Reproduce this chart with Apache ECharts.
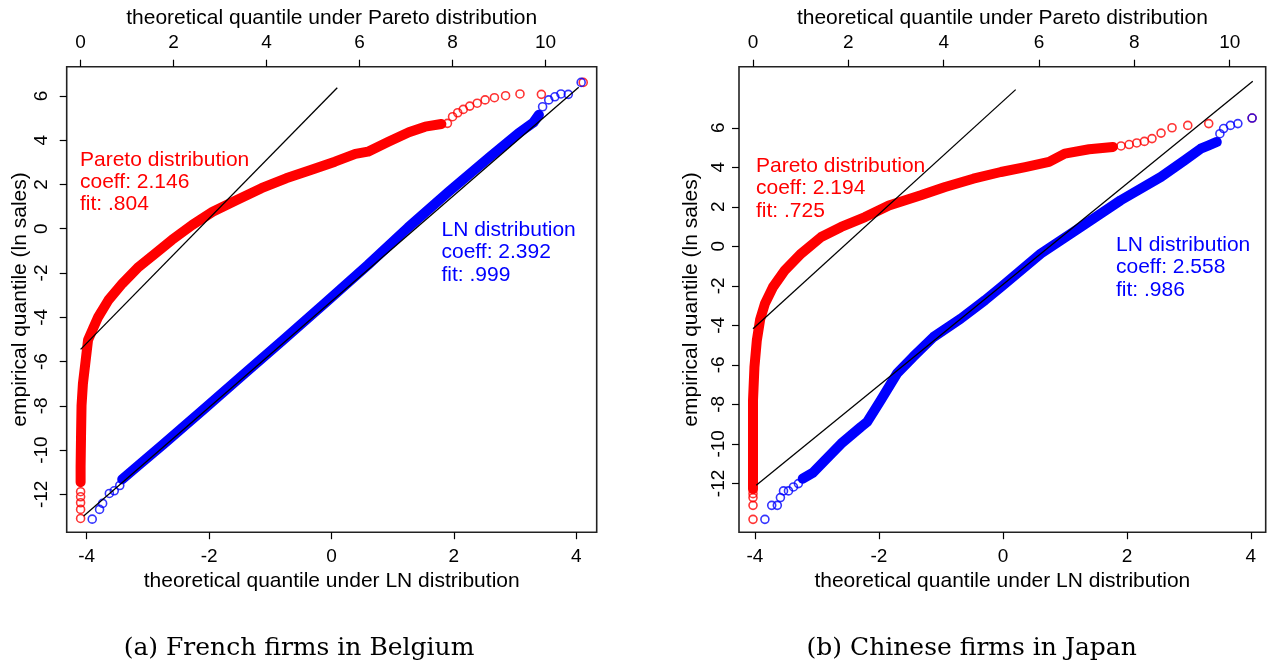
<!DOCTYPE html>
<html><head><meta charset="utf-8">
<script src="https://cdn.jsdelivr.net/npm/echarts@6/dist/echarts.min.js"></script>
<style>html,body{margin:0;padding:0;background:#fff}#c{width:1270px;height:667px}</style>
</head><body><div id="c"></div>
<script>
// ---------- tick labels ----------
const lnTicks = [-4, -2, 0, 2, 4];
const paretoTicks = [0, 2, 4, 6, 8, 10];
const yTicks = [-12, -10, -8, -6, -4, -2, 0, 2, 4, 6];

// ---------- panel (a): French firms in Belgium ----------
// Pareto QQ (x = theoretical Pareto quantile, y = ln sales)
const redBandA = [[7.76,4.73],[7.41,4.61],[7.06,4.36],[6.62,3.93],[6.18,3.48],[5.91,3.38],[5.47,3.03],[4.95,2.65],[4.42,2.28],[3.89,1.83],[3.36,1.30],[2.84,0.77],[2.40,0.17],[1.96,-0.51],[1.61,-1.11],[1.25,-1.72],[0.90,-2.47],[0.60,-3.22],[0.38,-3.98],[0.27,-4.5],[0.16,-5.03],[0.11,-5.93],[0.05,-7.0],[0.02,-8.0],[0.01,-9.25],[0.0,-10.75],[0.0,-11.45]];
const redSparseA = [[10.81,6.61],[9.91,6.07],[9.45,6.09],[9.14,6.01],[8.90,5.92],[8.70,5.82],[8.53,5.67],[8.37,5.54],[8.23,5.39],[8.11,5.24],[8.00,5.06],[7.89,4.76],[0.0,-11.88],[0.0,-12.11],[0.0,-12.38],[0.0,-12.68],[0.0,-13.09]];
// LN QQ (x = theoretical LN quantile)
const blueBandA = [[-3.42,-11.32],[-3.2,-10.8],[-2.75,-9.74],[-2.08,-8.14],[-1.41,-6.52],[-0.78,-5.0],[-0.08,-3.3],[0.59,-1.65],[1.25,0.05],[1.92,1.68],[2.59,3.25],[3.05,4.3],[3.3,4.8],[3.39,5.15]];
const blueSparseA = [[-3.91,-13.12],[-3.79,-12.68],[-3.74,-12.41],[-3.63,-11.96],[-3.55,-11.84],[-3.46,-11.6],[3.45,5.51],[3.55,5.82],[3.65,5.96],[3.75,6.09],[3.87,6.07],[4.08,6.61]];
const paretoLineA = [[0,-5.45],[5.52,6.37]];
const lnLineA = [[-4.05,-12.98],[4.04,6.39]];
const textParetoA = ["Pareto distribution", "coeff: 2.146", "fit: .804"];
const textLnA = ["LN distribution", "coeff: 2.392", "fit: .999"];
const captionA = "(a) French firms in Belgium";

// ---------- panel (b): Chinese firms in Japan ----------
const redBandB = [[7.55,5.03],[7.05,4.91],[6.54,4.69],[6.21,4.27],[5.71,4.01],[5.20,3.76],[4.62,3.42],[4.03,3.00],[3.52,2.58],[2.85,2.07],[2.35,1.48],[1.85,0.98],[1.43,0.47],[1.01,-0.37],[0.67,-1.21],[0.42,-2.06],[0.25,-2.90],[0.15,-3.7],[0.08,-4.76],[0.03,-6.11],[0.0,-7.79],[0.0,-9.48],[0.0,-11.17],[0.0,-12.3]];
const redSparseB = [[10.47,6.49],[9.56,6.21],[9.12,6.12],[8.79,6.00],[8.56,5.73],[8.37,5.45],[8.21,5.31],[8.05,5.23],[7.89,5.15],[7.72,5.08],[0.0,-12.52],[0.0,-12.72],[0.0,-13.11],[0.0,-13.82]];
const blueBandB = [[-3.23,-11.76],[-3.07,-11.47],[-2.87,-10.83],[-2.61,-9.99],[-2.29,-9.14],[-2.19,-8.89],[-1.97,-7.79],[-1.71,-6.44],[-1.45,-5.60],[-1.12,-4.59],[-0.68,-3.66],[-0.29,-2.73],[-0.03,-2.06],[0.61,-0.37],[1.26,0.98],[1.90,2.33],[2.55,3.51],[2.93,4.35],[3.19,4.94],[3.32,5.11],[3.45,5.28]];
const blueSparseB = [[-3.84,-13.82],[-3.73,-13.11],[-3.64,-13.11],[-3.59,-12.72],[-3.54,-12.38],[-3.46,-12.38],[-3.38,-12.18],[-3.30,-12.01],[3.50,5.70],[3.56,5.96],[3.67,6.12],[3.79,6.21],[4.02,6.49]];
const paretoLineB = [[0,-4.17],[5.51,7.93]];
const lnLineB = [[-3.98,-12.09],[4.03,8.35]];
const textParetoB = ["Pareto distribution", "coeff: 2.194", "fit: .725"];
const textLnB = ["LN distribution", "coeff: 2.558", "fit: .986"];
const captionB = "(b) Chinese firms in Japan";

const xTitleTop = "theoretical quantile under Pareto distribution";
const xTitleBottom = "theoretical quantile under LN distribution";
const yTitle = "empirical quantile (ln sales)";

// ---------- styling / layout ----------
const F = '"Liberation Sans", Arial, Helvetica, sans-serif';
const RED = '#ff0000', BLUE = '#0000ff';

function xAxisDef(grid, pos, min, max, ticks, name, margin, gap) {
  return {
    type: 'value', gridIndex: grid, position: pos, min: min, max: max,
    name: name, nameLocation: 'middle', nameGap: gap,
    nameTextStyle: { fontFamily: F, fontSize: 21, color: '#000' },
    axisLine: { show: false, onZero: false },
    axisTick: { show: true, customValues: ticks, length: 7, lineStyle: { color: '#000', width: 1.2 } },
    axisLabel: { customValues: ticks, margin: margin, fontFamily: F, fontSize: 19, color: '#000' },
    splitLine: { show: false }
  };
}
function yAxisDef(grid, min, max, margin, gap) {
  return {
    type: 'value', gridIndex: grid, position: 'left', min: min, max: max,
    name: yTitle, nameLocation: 'middle', nameGap: gap,
    nameTextStyle: { fontFamily: F, fontSize: 21, color: '#000' },
    axisLine: { show: false, onZero: false },
    axisTick: { show: true, customValues: yTicks, length: 7, lineStyle: { color: '#000', width: 1.2 } },
    axisLabel: { customValues: yTicks, rotate: 90, margin: margin, fontFamily: F, fontSize: 19, color: '#000' },
    splitLine: { show: false }
  };
}
function band(data, xi, yi, color) {
  return { type: 'line', xAxisIndex: xi, yAxisIndex: yi, data: data, showSymbol: false, symbol: 'none',
    lineStyle: { color: color, width: 10, cap: 'round', join: 'round' }, silent: true, z: 2 };
}
function sparse(data, xi, yi, color) {
  return { type: 'scatter', xAxisIndex: xi, yAxisIndex: yi, data: data, symbol: 'circle', symbolSize: 8,
    itemStyle: { color: 'rgba(0,0,0,0)', borderColor: color, borderWidth: 1.6 }, silent: true, z: 3 };
}
function fitLine(data, xi, yi) {
  return { type: 'line', xAxisIndex: xi, yAxisIndex: yi, data: data, showSymbol: false, symbol: 'none',
    lineStyle: { color: '#000', width: 1.3 }, silent: true, z: 5 };
}
function textLines(lines, x, y0, step, color) {
  return lines.map((t, i) => ({ type: 'text', x: x, y: y0 + i * step, silent: true,
    style: { text: t, fill: color, fontFamily: F, fontSize: 21, align: 'left', verticalAlign: 'middle' } }));
}

const option = {
  animation: false,
  backgroundColor: '#fff',
  grid: [
    { left: 66.7, top: 66.7, width: 530, height: 465.5, show: true, borderColor: '#222', borderWidth: 1.6, backgroundColor: 'rgba(0,0,0,0)', outerBoundsMode: 'none' },
    { left: 739, top: 66.7, width: 526.7, height: 465.5, show: true, borderColor: '#222', borderWidth: 1.6, backgroundColor: 'rgba(0,0,0,0)', outerBoundsMode: 'none' }
  ],
  xAxis: [
    xAxisDef(0, 'bottom', -4.327, 4.334, lnTicks, xTitleBottom, 15, 39),
    xAxisDef(0, 'top', -0.299, 11.10, paretoTicks, xTitleTop, 14.5, 38),
    xAxisDef(1, 'bottom', -4.258, 4.239, lnTicks, xTitleBottom, 15, 39),
    xAxisDef(1, 'top', -0.294, 10.755, paretoTicks, xTitleTop, 14.5, 38)
  ],
  yAxis: [
    yAxisDef(0, -13.71, 7.32, 15.5, 36),
    yAxisDef(1, -14.47, 9.09, 11.2, 37)
  ],
  series: [
    band(redBandA, 1, 0, RED), sparse(redSparseA, 1, 0, RED),
    band(blueBandA, 0, 0, BLUE), sparse(blueSparseA, 0, 0, BLUE),
    fitLine(paretoLineA, 1, 0), fitLine(lnLineA, 0, 0),
    band(redBandB, 3, 1, RED), sparse(redSparseB, 3, 1, RED),
    band(blueBandB, 2, 1, BLUE), sparse(blueSparseB, 2, 1, BLUE),
    fitLine(paretoLineB, 3, 1), fitLine(lnLineB, 2, 1)
  ],
  graphic: [].concat(
    textLines(textParetoA, 80, 160, 22, RED),
    textLines(textLnA, 441.5, 230, 22.5, BLUE),
    textLines(textParetoB, 756, 166, 22.5, RED),
    textLines(textLnB, 1116, 245, 22.5, BLUE),
    [
      { type: 'text', x: 299, y: 648, silent: true, style: { text: captionA, fill: '#000', fontFamily: '"DejaVu Serif", serif', fontSize: 25, align: 'center', verticalAlign: 'middle' } },
      { type: 'text', x: 971.7, y: 648, silent: true, style: { text: captionB, fill: '#000', fontFamily: '"DejaVu Serif", serif', fontSize: 25, align: 'center', verticalAlign: 'middle' } }
    ]
  )
};
const chart = echarts.init(document.getElementById('c'), null, { renderer: 'canvas' });
chart.setOption(option);
</script>
</body></html>
